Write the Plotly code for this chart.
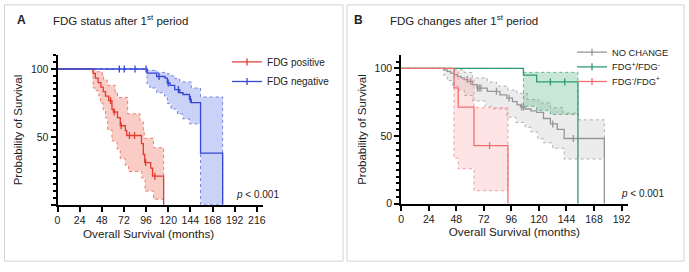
import plotly.graph_objects as go

W, H = 689, 272
FONT = "Liberation Sans, Arial, sans-serif"

# ---------------- Panel A data ----------------
posT = [0, 38.5, 41, 44, 47, 49.5, 52, 55.5, 59, 60.5, 65, 68, 73.5, 75, 91, 93, 94.5, 101, 103, 115]
posS = [100, 96.7, 93.3, 90, 86.7, 83.3, 80, 76.7, 70.2, 68.3, 64.2, 58.2, 54.6, 51, 45, 37, 31, 27, 21, 0]
posCT = [57.5, 61.5, 69, 78, 83.5, 95.5, 105.5]
posCS = [76.7, 68.3, 58.2, 51, 51, 31, 21]
posUpT = [0, 41, 48.5, 50, 54, 62.5, 65, 76, 89.5, 93, 94, 104, 115]
posUpS = [100, 98, 95.7, 92, 88, 83, 79, 67, 61, 55, 49, 42, 0]
posLoT = [0, 38.5, 41, 44.8, 46.6, 49.4, 52, 54.4, 59, 64.5, 68, 73.4, 77, 91.3, 94.9, 104, 115]
posLoS = [100, 86, 84, 80, 75, 70, 64, 55, 47, 41, 34, 29, 24.5, 19.7, 10, 4, 0]

negT = [0, 97, 107.5, 116.5, 119, 122, 127, 132.5, 136, 143, 145, 155, 179]
negS = [100, 96.9, 94.5, 93.3, 89.7, 88, 84.8, 82.5, 81.2, 77.6, 75.3, 38, 0]
negCT = [67, 72.3, 84, 96, 110, 120, 131, 144]
negCS = [100, 100, 100, 100, 94.5, 89.7, 84.8, 77.6]
negUpT = [0, 97, 108, 117, 122, 127, 132.5, 145, 155, 179, 179]
negUpS = [100, 99, 97.5, 96.5, 95, 93, 90.5, 86, 79.4, 79.4, 0]
negLoT = [0, 97, 100, 107.5, 116, 119, 123, 130, 136, 143, 155, 179]
negLoS = [100, 89, 86, 82.5, 80, 74.5, 70.5, 66.8, 63.2, 59.6, 0, 0]

# ---------------- Panel B data ----------------
ncT = [0, 37, 40, 43, 46, 49, 52, 55, 58, 62, 66, 75, 86, 92, 97, 101, 104, 108, 113, 118, 124, 130, 136, 142, 177]
ncS = [100, 99, 97.8, 96.6, 95.4, 94.2, 93, 91.8, 90.5, 88, 85.5, 83.1, 80.5, 78, 75.5, 73, 71.5, 70, 68.7, 67.5, 63, 59, 55, 48.2, 0]
ncCT = [57.5, 60.5, 66.5, 68, 69.5, 83, 94, 105, 106.5, 132, 150]
ncCS = [91.8, 90.5, 85.5, 85.5, 85.5, 83.1, 78, 71.5, 71.5, 59, 48.2]
ncUpT = [0, 40, 45, 55, 62, 75, 83, 93, 101, 110, 120, 130, 141, 154.5, 177, 177]
ncUpS = [100, 100, 99, 97, 93, 90, 87, 84, 81.5, 77, 74.5, 71, 67, 62, 62, 33]
ncLoT = [0, 37, 40, 45, 50, 55, 62, 73, 80, 92, 100, 108, 113, 119, 124, 132, 142, 177]
ncLoS = [100, 95, 91, 87, 84, 80, 76, 72, 70, 64, 60, 56.5, 53, 48, 45, 41, 33, 33]

pnT = [0, 106.5, 118, 154]
pnS = [100, 95, 90, 0]
pnCT = [130, 142.5]
pnCS = [90, 90]
pnUpT = [0, 106.5, 154, 154]
pnUpS = [100, 97.1, 97.1, 66]
pnLoT = [0, 106.5, 118, 130, 154]
pnLoS = [100, 72, 69, 66, 66]

npT = [0, 46, 49.7, 63.4, 93]
npS = [100, 85.7, 71.4, 42.9, 0]
npCT = [77]
npCS = [42.9]
npUpT = [0, 46, 49.7, 63.4, 93, 93]
npUpS = [100, 97.9, 92, 71, 71, 9.6]
npLoT = [0, 46, 49.7, 63.4, 93]
npLoS = [100, 33.7, 25.8, 9.6, 9.6]

fig = go.Figure()


def add_group(name, T, S, CT, CS, UT, US, LT, LS, line, dash, fill, xa, ya, legend):
    fig.add_trace(go.Scatter(x=UT, y=US, mode="lines", line=dict(color=dash, width=0.9, dash="dot", shape="hv"),
                             showlegend=False, xaxis=xa, yaxis=ya, hoverinfo="skip"))
    fig.add_trace(go.Scatter(x=LT, y=LS, mode="lines", line=dict(color=dash, width=0.9, dash="dot", shape="hv"),
                             fill="tonexty", fillcolor=fill, showlegend=False, xaxis=xa, yaxis=ya, hoverinfo="skip"))
    fig.add_trace(go.Scatter(x=T, y=S, mode="lines", line=dict(color=line, width=1.3, shape="hv"),
                             showlegend=False, xaxis=xa, yaxis=ya))
    fig.add_trace(go.Scatter(x=CT, y=CS, mode="markers",
                             marker=dict(symbol="line-ns", size=5, line=dict(color=line, width=1.3)),
                             showlegend=False, xaxis=xa, yaxis=ya, cliponaxis=False))
    fig.add_trace(go.Scatter(x=[None], y=[None], mode="lines+markers", name=name,
                             line=dict(color=line, width=1.3),
                             marker=dict(symbol="line-ns", size=5, line=dict(color=line, width=1.3)),
                             xaxis=xa, yaxis=ya, legend=legend))


add_group("FDG positive", posT, posS, posCT, posCS, posUpT, posUpS, posLoT, posLoS,
          "#e23b32", "#e8735f", "rgba(238,110,90,0.35)", "x", "y", "legend")
add_group("FDG negative", negT, negS, negCT, negCS, negUpT, negUpS, negLoT, negLoS,
          "#3447d4", "#6a7ade", "rgba(80,105,230,0.30)", "x", "y", "legend2")
add_group("NO CHANGE", ncT, ncS, ncCT, ncCS, ncUpT, ncUpS, ncLoT, ncLoS,
          "#969696", "#aaaaaa", "rgba(170,170,170,0.22)", "x2", "y2", "legend3")
add_group("FDG<sup>+</sup>/FDG<sup>-</sup>", pnT, pnS, pnCT, pnCS, pnUpT, pnUpS, pnLoT, pnLoS,
          "#2e9a70", "#55ae8a", "rgba(60,170,110,0.28)", "x2", "y2", "legend4")
add_group("FDG<sup>-</sup>/FDG<sup>+</sup>", npT, npS, npCT, npCS, npUpT, npUpS, npLoT, npLoS,
          "#ef6f72", "#f09294", "rgba(250,130,135,0.22)", "x2", "y2", "legend5")

xticksA = list(range(0, 217, 24))
xticksB = list(range(0, 193, 24))

axis_common = dict(showline=True, linecolor="black", linewidth=2, ticks="outside", ticklen=5, tickwidth=2,
                   tickcolor="black", showgrid=False, zeroline=False,
                   tickfont=dict(family=FONT, size=10.5, color="#222"))

yminor = dict(ticks="outside", ticklen=3, tickwidth=1.5, tickcolor="black", dtick=5, tick0=0, showgrid=False)


def leg(xpx, center_px, size):
    return dict(x=xpx / W, y=1 - (center_px - 11.5) / H, xanchor="left", yanchor="top",
                bgcolor="rgba(0,0,0,0)", font=dict(family=FONT, size=size, color="#222"))


fig.update_layout(
    width=W, height=H, margin=dict(l=0, r=0, t=0, b=0),
    paper_bgcolor="white", plot_bgcolor="white",
    font=dict(family=FONT, color="#222"),
    xaxis=dict(domain=[55 / W, 262 / W], range=[0, 222.4], tickmode="array", tickvals=xticksA,
               anchor="y", **axis_common),
    yaxis=dict(domain=[1 - 209.3 / H, 1 - 56.7 / H], range=[0, 110], tickmode="array",
               tickvals=[0, 50, 100], ticktext=["", "50", "100"], minor=yminor,
               title=dict(text="Probability of Survival", font=dict(size=11.5), standoff=6),
               anchor="x", **axis_common),
    xaxis2=dict(domain=[401.7 / W, 630 / W], range=[0, 197.2], tickmode="array", tickvals=xticksB,
                title=dict(text="Overall Survival (months)", font=dict(size=11.7), standoff=4),
                anchor="y2", **axis_common),
    yaxis2=dict(domain=[1 - 208.3 / H, 1 - 56.7 / H], range=[0, 109.6], tickmode="array",
                tickvals=[0, 50, 100], ticktext=["0", "50", "100"], minor=yminor,
                title=dict(text="Probability of Survival", font=dict(size=11.5), standoff=6),
                anchor="x2", **axis_common),
    legend=leg(226, 60, 10),
    legend2=leg(226, 80, 10),
    legend3=leg(574, 50, 9.3),
    legend4=leg(574, 65, 9.3),
    legend5=leg(574, 80, 9.3),
    shapes=[
        dict(type="rect", xref="paper", yref="paper", x0=1.5 / W, x1=343 / W, y0=1 - 267 / H, y1=1 - 5 / H,
             line=dict(color="#d2d2d2", width=1)),
        dict(type="rect", xref="paper", yref="paper", x0=347 / W, x1=687 / W, y0=1 - 267 / H, y1=1 - 5 / H,
             line=dict(color="#d2d2d2", width=1)),
    ],
)

ann = [
    dict(text="<b>A</b>", x=12 / W, y=1 - 20 / H, size=12, xanchor="left"),
    dict(text="FDG status after 1<sup>st</sup> period", x=48 / W, y=1 - 20 / H, size=11.5, xanchor="left"),
    dict(text="<b>B</b>", x=352 / W, y=1 - 20 / H, size=12, xanchor="left"),
    dict(text="FDG changes after 1<sup>st</sup> period", x=388 / W, y=1 - 20 / H, size=11.5, xanchor="left"),
    dict(text="<i>p</i> < 0.001", x=233 / W, y=1 - 199 / H, size=10, xanchor="left"),
    dict(text="<i>p</i> < 0.001", x=621 / W, y=1 - 198 / H, size=10, xanchor="left"),
    dict(text="Overall Survival (months)", x=147 / W, y=1 - 239 / H, size=11.7, xanchor="center"),
]
for a in ann:
    sz = a.pop("size")
    fig.add_annotation(xref="paper", yref="paper", yanchor="middle", showarrow=False,
                       font=dict(family=FONT, size=sz, color="#222"), **a)

fig.write_html("out.html", config={"displayModeBar": False},
               post_script="document.body.style.margin='0';document.body.style.overflow='hidden';")
